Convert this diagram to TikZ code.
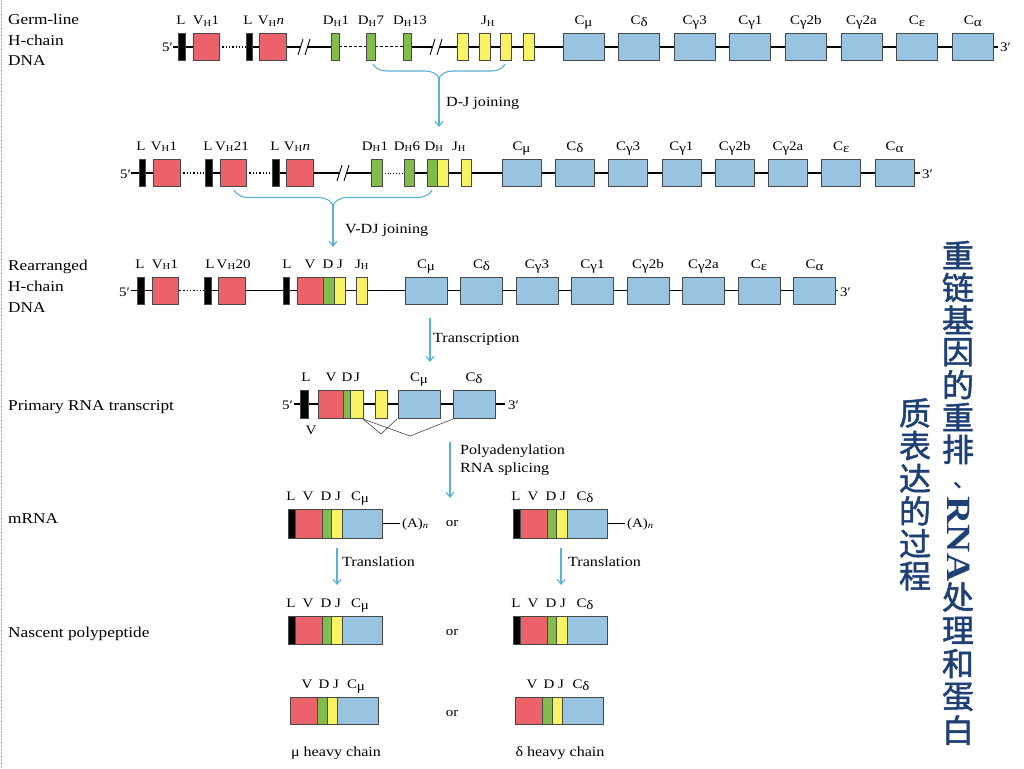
\documentclass[tikz,border=0pt]{standalone}
\usepackage{fontspec}
\setmainfont{Liberation Serif}[FakeStretch=1.15]
\newfontfamily\cjk{Noto Sans CJK SC}[FakeBold=1.5]
\usetikzlibrary{arrows.meta,decorations.pathreplacing}

\definecolor{vred}{RGB}{236,98,106}
\definecolor{dgreen}{RGB}{130,188,74}
\definecolor{jyellow}{RGB}{248,244,100}
\definecolor{cblue}{RGB}{152,196,226}
\definecolor{flow}{RGB}{88,178,214}
\definecolor{titleblue}{RGB}{30,64,116}
\definecolor{edge}{RGB}{72,72,72}

\tikzset{
  box/.style={draw=edge, line width=0.7pt},
  vseg/.style={box, fill=vred},
  dseg/.style={box, fill=dgreen},
  jseg/.style={box, fill=jyellow},
  cseg/.style={box, fill=cblue},
  lseg/.style={box, fill=black},
  dna/.style={line width=1.3pt},
  glab/.style={font=\fontsize{13}{15}\selectfont, inner sep=0pt, anchor=base},
  rowlab/.style={font=\fontsize{15}{18}\selectfont, inner sep=0pt, anchor=base west},
  steplab/.style={font=\fontsize{14}{17}\selectfont, inner sep=0pt, anchor=base west},
  flowline/.style={draw=flow, line width=1.1pt},
  joinbrace/.style={flowline, decorate, decoration={brace, amplitude=14pt}},
  splice/.style={draw=edge, line width=0.6pt},
  ttl/.style={font=\cjk\fontsize{32}{32}\selectfont, text=titleblue, inner sep=0pt},
}

% one gene segment of the current row
\newcommand{\seg}[3]{\filldraw[#1] (#2,\ry-\rh) rectangle (#3,\ry+\rh);}
% break mark on the backbone
\newcommand{\cut}[1]{\fill[white] (#1-3,\ry-4) rectangle (#1+3,\ry+4);
  \draw[line width=0.9pt] (#1-6,\ry+8) -- (#1-1,\ry-8) (#1+1,\ry+8) -- (#1+6,\ry-8);}
% L V D J C message
\newcommand{\mrna}[1]{\seg{lseg}{#1}{#1+7}\seg{vseg}{#1+7}{#1+34}\seg{dseg}{#1+34}{#1+43}
  \seg{jseg}{#1+43}{#1+54}\seg{cseg}{#1+54}{#1+94}}
% V D J C chain
\newcommand{\hchain}[1]{\seg{vseg}{#1}{#1+27}\seg{dseg}{#1+27}{#1+37}
  \seg{jseg}{#1+37}{#1+47}\seg{cseg}{#1+47}{#1+88}}
\newcommand{\gk}[1]{\raisebox{-2pt}{#1}}
\newcommand{\sH}{\textsubscript{H}}

\begin{document}
\begin{tikzpicture}[x=1pt,y=-1pt,>={Straight Barb[length=5pt,width=8pt]}]
\useasboundingbox (0,0) rectangle (1024,768);
\fill[white] (0,0) rectangle (1024,768);
\draw[gray!60, densely dotted] (1,0) -- (1,768);

% row names
\node[rowlab] (germa) at (8,25) {Germ-line};
\node[rowlab] (germb) at (8,45.5) {H-chain};
\node[rowlab] (germc) at (8,66) {DNA};
\node[rowlab] (reara) at (8,270) {Rearranged};
\node[rowlab] (rearb) at (8,291) {H-chain};
\node[rowlab] (rearc) at (8,312) {DNA};
\node[rowlab] (prim) at (8,410) {Primary RNA transcript};
\node[rowlab] (mrna) at (8,523) {mRNA};
\node[rowlab] (nasc) at (8,637) {Nascent polypeptide};

% germ-line DNA
\def\ry{47}\def\rh{13.5}
\draw[dna] (173,\ry) -- (219,\ry);
\draw[dna, dotted] (219,\ry) -- (246,\ry);
\draw[dna] (246,\ry) -- (331,\ry);
\draw[line width=1pt, dash pattern=on 3pt off 2pt] (339,\ry) -- (366,\ry) (375,\ry) -- (403,\ry);
\draw[dna] (411,\ry) -- (998,\ry);
\cut{304}\cut{436}
\seg{lseg}{178}{185}\seg{vseg}{193}{219}
\seg{lseg}{246}{252}\seg{vseg}{259}{286}
\seg{dseg}{331}{339}\seg{dseg}{366}{375}\seg{dseg}{403}{411}
\foreach \x in {457,479,500,523} {\seg{jseg}{\x}{\x+11}}
\node[glab, anchor=base east] (g5) at (173,52) {5′};
\node[glab, anchor=base west] (g3) at (1000,52) {3′};
\node[glab] (gl1) at (181,25) {L};
\node[glab] (gv1) at (206,25) {V\sH1};
\node[glab] (gl2) at (248,25) {L};
\node[glab] (gvn) at (271,25) {V\sH\textit{n}};
\node[glab] (gd1) at (336,25) {D\sH1};
\node[glab] (gd7) at (371,25) {D\sH7};
\node[glab] (gd13) at (410,25) {D\sH13};
\node[glab] (gjh) at (488,25) {J\sH};
\foreach \t [count=\i from 0] in {C\gk{μ},C\gk{δ},C\gk{γ}3,C\gk{γ}1,C\gk{γ}2b,C\gk{γ}2a,C\gk{ε},C\gk{α}} {
  \seg{cseg}{563+55.6*\i}{604+55.6*\i}
  \node[glab] (gc\i) at (583.5+55.6*\i,25) {\t};
}

% D-J joining
\draw[joinbrace] (505,64) -- (373,64);
\coordinate (dj0) at (439,78);
\coordinate (dj1) at (439,127);
\draw[flowline, ->] (dj0) -- (dj1);
\node[steplab] (djtxt) at (446,106) {D-J joining};

% after D-J joining
\def\ry{173}
\draw[dna] (131,\ry) -- (180,\ry);
\draw[dna, dotted] (180,\ry) -- (205,\ry) (246,\ry) -- (272,\ry);
\draw[dna] (212,\ry) -- (220,\ry) (279,\ry) -- (371,\ry);
\draw[line width=0.8pt, dotted] (382,\ry) -- (404,\ry);
\draw[dna] (414,\ry) -- (920,\ry);
\cut{343}
\seg{lseg}{139}{145}\seg{vseg}{153}{180}
\seg{lseg}{205}{212}\seg{vseg}{220}{246}
\seg{lseg}{272}{279}\seg{vseg}{286}{313}
\seg{dseg}{371}{382}\seg{dseg}{404}{414}
\seg{dseg}{427}{437}\seg{jseg}{437}{448}\seg{jseg}{461}{471}
\node[glab, anchor=base east] (d5) at (131,178) {5′};
\node[glab, anchor=base west] (d3) at (922,178) {3′};
\node[glab] (dl1) at (141,150) {L};
\node[glab] (dv1) at (164,150) {V\sH1};
\node[glab] (dl2) at (208,150) {L};
\node[glab] (dv21) at (232,150) {V\sH21};
\node[glab] (dl3) at (275,150) {L};
\node[glab] (dvn) at (297,150) {V\sH\textit{n}};
\node[glab] (dd1) at (375,150) {D\sH1};
\node[glab] (dd6) at (407,150) {D\sH6};
\node[glab] (ddh) at (434,150) {D\sH};
\node[glab] (djh) at (459,150) {J\sH};
\foreach \t [count=\i from 0] in {C\gk{μ},C\gk{δ},C\gk{γ}3,C\gk{γ}1,C\gk{γ}2b,C\gk{γ}2a,C\gk{ε},C\gk{α}} {
  \seg{cseg}{502+53.3*\i}{541+53.3*\i}
  \node[glab] (dc\i) at (521.5+53.3*\i,150) {\t};
}

% V-DJ joining
\draw[joinbrace, decoration={amplitude=15pt}] (432,190) -- (234,190);
\coordinate (vdj0) at (333,205);
\coordinate (vdj1) at (333,247);
\draw[flowline, ->] (vdj0) -- (vdj1);
\node[steplab] (vdjtxt) at (345,233) {V-DJ joining};

% rearranged DNA
\def\ry{290.5}
\draw[dna] (131,\ry) -- (180,\ry);
\draw[dna, dotted] (180,\ry) -- (204,\ry);
\draw[dna] (211,\ry) -- (838,\ry);
\seg{lseg}{137}{144}\seg{vseg}{152}{178}
\seg{lseg}{204}{211}\seg{vseg}{218}{245}
\seg{lseg}{283}{289}\seg{vseg}{297}{323}\seg{dseg}{323}{334}\seg{jseg}{334}{345}
\seg{jseg}{356}{367}
\node[glab, anchor=base east] (r5) at (130,296) {5′};
\node[glab, anchor=base west] (r3) at (840,296) {3′};
\node[glab] (rl1) at (140,268) {L};
\node[glab] (rv1) at (165,268) {V\sH1};
\node[glab] (rv20) at (228,268) {L\,V\sH20};
\node[glab] (rl2) at (287,268) {L};
\node[glab] (rv) at (310,268) {V};
\node[glab] (rd) at (328,268) {D};
\node[glab] (rj) at (340,268) {J};
\node[glab] (rjh) at (362,268) {J\sH};
\foreach \t [count=\i from 0] in {C\gk{μ},C\gk{δ},C\gk{γ}3,C\gk{γ}1,C\gk{γ}2b,C\gk{γ}2a,C\gk{ε},C\gk{α}} {
  \seg{cseg}{405+55.5*\i}{447+55.5*\i}
  \node[glab] (rc\i) at (426+55.5*\i,268) {\t};
}

% transcription
\coordinate (tr0) at (430,318);
\coordinate (tr1) at (430,362);
\draw[flowline, ->] (tr0) -- (tr1);
\node[steplab] (trtxt) at (433,342) {Transcription};

% primary transcript
\def\ry{404}\def\rh{14}
\draw[dna] (294,\ry) -- (505,\ry);
\seg{lseg}{300}{308}\seg{vseg}{318}{343}\seg{dseg}{343}{350}\seg{jseg}{350}{363}
\seg{jseg}{375}{387}\seg{cseg}{398}{440}\seg{cseg}{453}{495}
\node[glab, anchor=base east] (p5) at (293,409) {5′};
\node[glab, anchor=base west] (p3) at (508,409) {3′};
\node[glab] (pl) at (306,381) {L};
\node[glab] (pv) at (331,381) {V};
\node[glab] (pd) at (347,381) {D};
\node[glab] (pj) at (357,381) {J};
\node[glab] (pcm) at (419,381) {C\gk{μ}};
\node[glab] (pcd) at (474,381) {C\gk{δ}};
\node[glab, anchor=center] (pcap) at (311,430) {V};
\coordinate (sp0) at (363,419);
\coordinate (sp1) at (381,434);
\coordinate (sp2) at (397,419);
\coordinate (sp3) at (410,436);
\coordinate (sp4) at (453,419);
\draw[splice] (sp0) -- (sp1) -- (sp2);
\draw[splice] (sp0) -- (sp3) -- (sp4);

% polyadenylation, splicing
\coordinate (pa0) at (450,442);
\coordinate (pa1) at (450,498);
\draw[flowline, ->] (pa0) -- (pa1);
\node[steplab] (patxt) at (460,454) {Polyadenylation};
\node[steplab] (sptxt) at (460,472) {RNA splicing};

% mRNA
\def\ry{523.5}\def\rh{14.5}
\draw[dna] (382,\ry) -- (400,\ry) (607,\ry) -- (625,\ry);
\mrna{288}\mrna{513}
\node[glab, anchor=base west] (ma1) at (402,527) {(A)\textsubscript{\textit{n}}};
\node[glab, anchor=base west] (ma2) at (627,527) {(A)\textsubscript{\textit{n}}};
\node[glab] (mor) at (452,526) {or};
\foreach \o/\c [count=\k] in {0/C\gk{μ},225/C\gk{δ}} {
  \node[glab] (ml\k) at (291+\o,500) {L};
  \node[glab] (mv\k) at (308+\o,500) {V};
  \node[glab] (md\k) at (326+\o,500) {D};
  \node[glab] (mj\k) at (338+\o,500) {J};
  \node[glab] (mc\k) at (360+\o,500) {\c};
}

% translation
\coordinate (tl0) at (337,548);
\coordinate (tl1) at (337,585);
\coordinate (tr2) at (561,548);
\coordinate (tr3) at (561,585);
\draw[flowline, ->] (tl0) -- (tl1);
\draw[flowline, ->] (tr2) -- (tr3);
\node[steplab] (tltxt) at (342,566) {Translation};
\node[steplab] (trtxt2) at (568,566) {Translation};

% nascent polypeptide
\def\ry{630}\def\rh{14}
\mrna{288}\mrna{513}
\node[glab] (nor) at (452,635) {or};
\foreach \o/\c [count=\k] in {0/C\gk{μ},225/C\gk{δ}} {
  \node[glab] (nl\k) at (291+\o,607) {L};
  \node[glab] (nv\k) at (308+\o,607) {V};
  \node[glab] (nd\k) at (326+\o,607) {D};
  \node[glab] (nj\k) at (338+\o,607) {J};
  \node[glab] (nc\k) at (360+\o,607) {\c};
}

% heavy chains
\def\ry{710.5}\def\rh{13.5}
\hchain{290}\hchain{515}
\node[glab] (hor) at (452,716) {or};
\foreach \o/\c [count=\k] in {0/C\gk{μ},225/C\gk{δ}} {
  \node[glab] (hv\k) at (307+\o,688) {V};
  \node[glab] (hd\k) at (324+\o,688) {D};
  \node[glab] (hj\k) at (336+\o,688) {J};
  \node[glab] (hc\k) at (356+\o,688) {\c};
}
\node[steplab, anchor=base] (hmu) at (336,756) {μ heavy chain};
\node[steplab, anchor=base] (hdelta) at (560,756) {δ heavy chain};

% title, vertical
\foreach \ch [count=\i from 0] in {重,链,基,因,的,重,排} {
  \node[ttl] (ta\i) at (958,255+32.4*\i) {\ch};
}
\node[ttl, font=\cjk\fontsize{22}{22}\selectfont, anchor=base] (tcomma) at (964,487) {、};
\node[ttl, font=\fontsize{34}{34}\selectfont\bfseries] (trna) at (959,539) {\rotatebox{-90}{RNA}};
\foreach \ch [count=\i from 0] in {处,理,和,蛋,白} {
  \node[ttl] (tb\i) at (958,597+33.3*\i) {\ch};
}
\foreach \ch [count=\i from 0] in {质,表,达,的,过,程} {
  \node[ttl] (tc\i) at (915,413+32.6*\i) {\ch};
}
\end{tikzpicture}
\end{document}
